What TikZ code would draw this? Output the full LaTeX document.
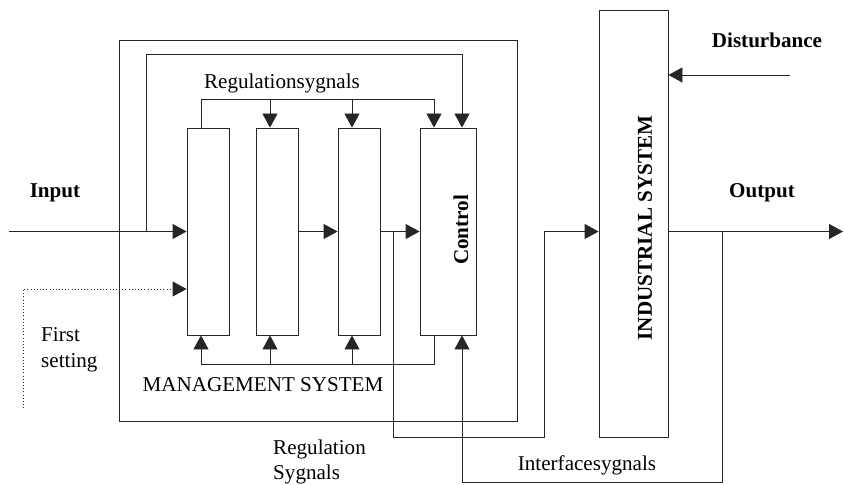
\documentclass[tikz,border=0pt]{standalone}
\usepackage{fontspec}
\setmainfont{Liberation Serif}
\usetikzlibrary{arrows.meta, positioning}

\begin{document}
\begin{tikzpicture}[x=0.03cm, y=-0.03cm, >={Triangle[length=0.42cm,width=0.45cm]},
    every node/.style={font=\fontsize{18}{22}\selectfont, inner sep=0pt},
    wire/.style={draw=black!85, line width=0.7pt},
    blk/.style={rectangle, draw=black!85, line width=0.7pt, minimum width=1.26cm, minimum height=6.21cm}]
    \useasboundingbox (0,0) rectangle (844,485);
    % frames
    \node[blk, minimum width=11.94cm, minimum height=11.43cm] (mgmt) at (318,230.5) {};
    \node[blk, minimum width=2.07cm, minimum height=12.81cm] (ind) at (633.5,223.5) {};
    \node[blk] (b1) at (208,231.5) {};
    \node[blk] (b2) at (277,231.5) {};
    \node[blk] (b3) at (359,231.5) {};
    \node[blk, minimum width=1.68cm] (ctrl) at (448,231.5) {};
    \node[rotate=90, font=\fontsize{18}{22}\selectfont\bfseries] (ctrllbl) at (461,230) {Control};
    \node[rotate=90, font=\fontsize{18}{22}\selectfont\bfseries] (indlbl) at (645,228) {INDUSTRIAL SYSTEM};
    % points
    \coordinate (in) at (9,231.5);
    \coordinate (fb) at (146,231.5);
    \coordinate (fbtop) at (462,54);
    \coordinate (rg1) at (201,99);
    \coordinate (rg2) at (270,99);
    \coordinate (rg3) at (352,99);
    \coordinate (rg4) at (434,99);
    \coordinate (bt1) at (201,364);
    \coordinate (bt2) at (270,364);
    \coordinate (bt3) at (352,364);
    \coordinate (bt4) at (434,364);
    \coordinate (rs) at (393,231.5);
    \coordinate (rsbot) at (544,437);
    \coordinate (ia) at (544,231.5);
    \coordinate (out) at (843,231.5);
    \coordinate (if1) at (722,231.5);
    \coordinate (if2) at (722,482);
    \coordinate (fs1) at (23,408);
    \coordinate (fs2) at (23,289);
    \coordinate (dist) at (790,75);
    % input and feedback
    \draw[wire, ->] (in) -- (b1.west |- in);
    \draw[wire, ->] (fb) |- (fbtop) -- (fbtop |- ctrl.north);
    \draw[wire, dotted, ->] (fs1) -- (fs2) -- (b1.west |- fs2);
    % regulation signals, top
    \draw[wire] (b1.north -| rg1) -- (rg1) -- (rg4);
    \draw[wire, ->] (rg2) -- (b2.north -| rg2);
    \draw[wire, ->] (rg3) -- (b3.north -| rg3);
    \draw[wire, ->] (rg4) -- (ctrl.north -| rg4);
    % bottom bus
    \draw[wire] (ctrl.south -| bt4) -- (bt4) -- (bt1);
    \draw[wire, ->] (bt1) -- (b1.south -| bt1);
    \draw[wire, ->] (bt2) -- (b2.south -| bt2);
    \draw[wire, ->] (bt3) -- (b3.south -| bt3);
    % chain
    \draw[wire, ->] (b2) -- (b3);
    \draw[wire, ->] (b3) -- (ctrl);
    \draw[wire, ->] (rs) |- (rsbot) -- (ia) -- (ind.west |- ia);
    % plant side
    \draw[wire, ->] (dist) -- (ind.east |- dist);
    \draw[wire, ->] (ind.east |- out) -- (out);
    \draw[wire, ->] (if1) -- (if2) -| (ctrl.south -| fbtop);
    % labels
    \node[font=\fontsize{18}{22}\selectfont\bfseries] (lblin) at (55,193) {Input};
    \node[font=\fontsize{18}{22}\selectfont\bfseries] (lblout) at (762,193) {Output};
    \node[font=\fontsize{18}{22}\selectfont\bfseries] (lbldist) at (767,40) {Disturbance};
    \node (lblrg) at (282,83) {Regulationsygnals};
    \node[anchor=west, align=left] (lblfs) at (41,350) {First\\setting};
    \node (lblmgmt) at (263,385) {MANAGEMENT SYSTEM};
    \node[anchor=west, align=left] (lblrs) at (273,462) {Regulation\\Sygnals};
    \node (lblif) at (587,465) {Interfacesygnals};
\end{tikzpicture}
\end{document}
